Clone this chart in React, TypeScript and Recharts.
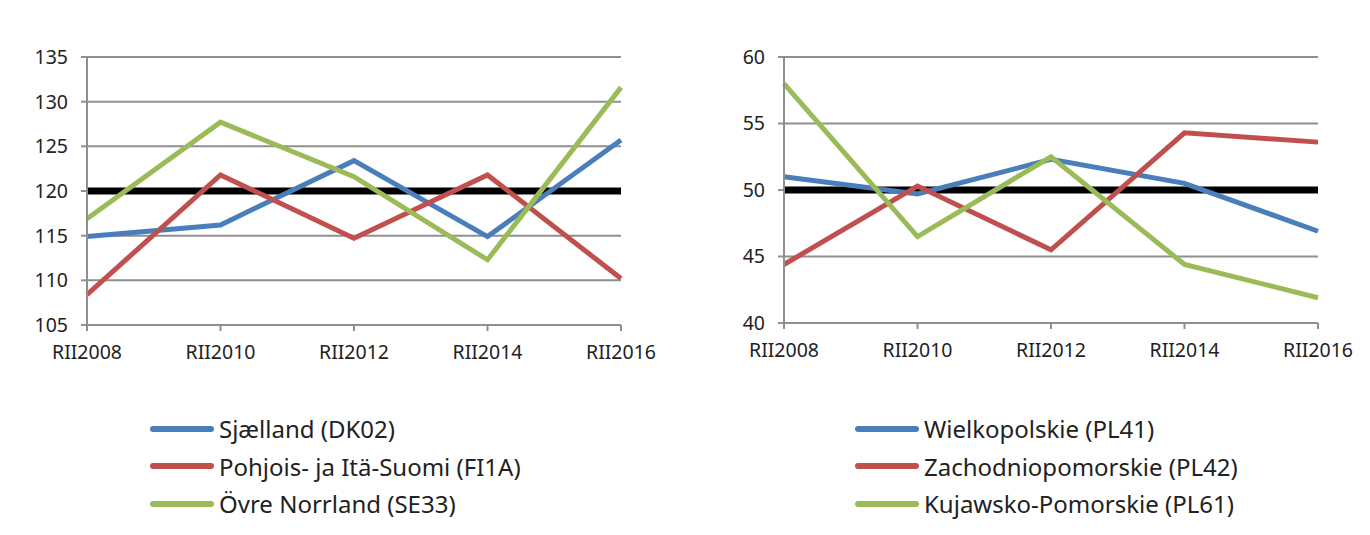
import { LineChart, Line, XAxis, YAxis, CartesianGrid, ReferenceLine, Legend } from "recharts";

const periods = ["RII2008", "RII2010", "RII2012", "RII2014", "RII2016"];

const sjaelland = [114.9, 116.2, 123.4, 114.9, 125.7];
const pohjoisItaSuomi = [108.4, 121.8, 114.7, 121.8, 110.2];
const ovreNorrland = [116.9, 127.7, 121.6, 112.3, 131.6];

const wielkopolskie = [51.0, 49.7, 52.3, 50.5, 46.9];
const zachodniopomorskie = [44.4, 50.3, 45.5, 54.3, 53.6];
const kujawskoPomorskie = [58.0, 46.5, 52.5, 44.4, 41.9];

const leftTicks = [105, 110, 115, 120, 125, 130, 135];
const rightTicks = [40, 45, 50, 55, 60];

const BLUE = "#4a7ebb";
const RED = "#c0504d";
const GREEN = "#9bbb59";
const FONT = "'Noto Sans', sans-serif";

type SeriesDef = { key: string; name: string; color: string; values: number[] };

const leftSeries: SeriesDef[] = [
  { key: "s1", name: "Sjælland (DK02)", color: BLUE, values: sjaelland },
  { key: "s2", name: "Pohjois- ja Itä-Suomi (FI1A)", color: RED, values: pohjoisItaSuomi },
  { key: "s3", name: "Övre Norrland (SE33)", color: GREEN, values: ovreNorrland },
];

const rightSeries: SeriesDef[] = [
  { key: "s1", name: "Wielkopolskie (PL41)", color: BLUE, values: wielkopolskie },
  { key: "s2", name: "Zachodniopomorskie (PL42)", color: RED, values: zachodniopomorskie },
  { key: "s3", name: "Kujawsko-Pomorskie (PL61)", color: GREEN, values: kujawskoPomorskie },
];

function buildRows(series: SeriesDef[]) {
  return periods.map((p, i) => {
    const row: Record<string, string | number> = { period: p };
    series.forEach((s) => (row[s.key] = s.values[i]));
    return row;
  });
}

// keep legend rows in the series order, not alphabetical
function LegendBox({ payload, order }: any) {
  const items = [...(payload || [])].sort(
    (a: any, b: any) => order.indexOf(a.value) - order.indexOf(b.value)
  );
  return (
    <div style={{ fontFamily: FONT, fontSize: 24, color: "#222" }}>
      {items.map((item: any) => (
        <div key={item.value} style={{ display: "flex", alignItems: "center", height: 37.5 }}>
          <span
            style={{
              display: "inline-block",
              width: 64,
              height: 6,
              borderRadius: 3,
              background: item.color,
              marginRight: 5,
            }}
          />
          <span>{item.value}</span>
        </div>
      ))}
    </div>
  );
}

interface PanelProps {
  series: SeriesDef[];
  domain: [number, number];
  ticks: number[];
  refValue: number;
  yWidth: number;
  right: number;
  bottom: number;
  legendLeft: number;
}

function Panel({ series, domain, ticks, refValue, yWidth, right, bottom, legendLeft }: PanelProps) {
  return (
    <LineChart
      width={685}
      height={535}
      data={buildRows(series)}
      margin={{ top: 57, right, bottom, left: 0 }}
    >
      <CartesianGrid vertical={false} stroke="#8f8f8f" strokeWidth={2} />
      <XAxis
        dataKey="period"
        height={30}
        stroke="#8f8f8f"
        strokeWidth={2}
        tickSize={6}
        tickMargin={14}
        tick={{ fill: "#222", fontSize: 19.5, fontFamily: FONT }}
        interval={0}
      />
      <YAxis
        width={yWidth}
        domain={domain}
        ticks={ticks}
        stroke="#8f8f8f"
        strokeWidth={2}
        tickSize={6}
        tickMargin={13}
        tick={{ fill: "#222", fontSize: 19.5, fontFamily: FONT }}
      />
      <ReferenceLine y={refValue} stroke="#000" strokeWidth={7} />
      {series.map((s) => (
        <Line
          key={s.key}
          dataKey={s.key}
          name={s.name}
          stroke={s.color}
          strokeWidth={5}
          dot={false}
          isAnimationActive={false}
        />
      ))}
      <Legend
        layout="vertical"
        align="center"
        verticalAlign="middle"
        content={<LegendBox order={series.map((s) => s.name)} />}
        wrapperStyle={{ left: legendLeft, top: 410, width: 500 }}
      />
    </LineChart>
  );
}

export default function App() {
  return (
    <div style={{ position: "absolute", left: 0, top: 0, width: 1370, height: 535, background: "#fff" }}>
      <div style={{ position: "absolute", left: 0, top: 0 }}>
        <Panel
          series={leftSeries}
          domain={[105, 135]}
          ticks={leftTicks}
          refValue={120}
          yWidth={87}
          right={64}
          bottom={180}
          legendLeft={150}
        />
      </div>
      <div style={{ position: "absolute", left: 685, top: 0 }}>
        <Panel
          series={rightSeries}
          domain={[40, 60]}
          ticks={rightTicks}
          refValue={50}
          yWidth={99}
          right={52}
          bottom={182}
          legendLeft={170}
        />
      </div>
    </div>
  );
}
